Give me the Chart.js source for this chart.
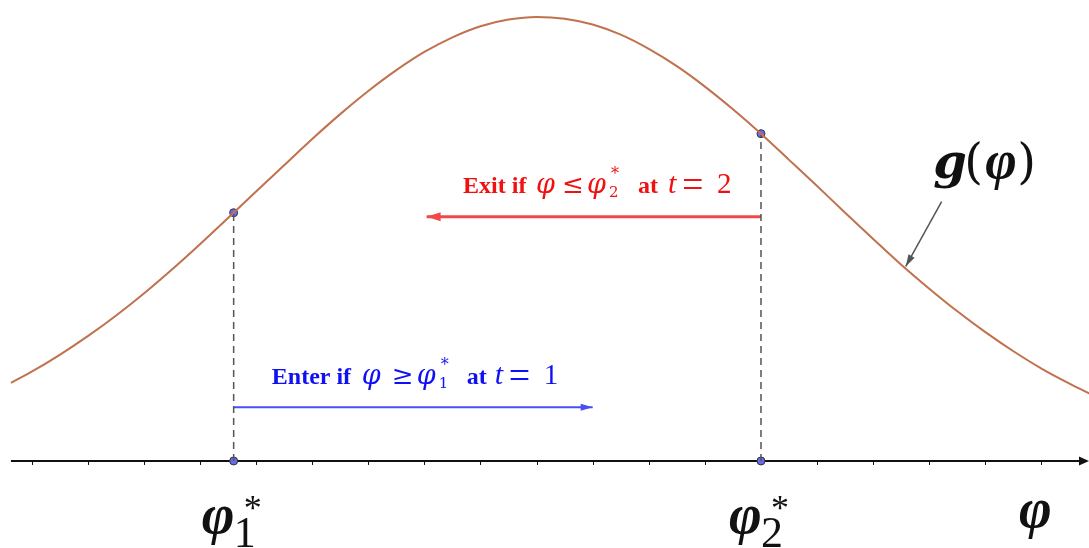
<!DOCTYPE html>
<html>
<head>
<meta charset="utf-8">
<script src="https://cdn.jsdelivr.net/npm/chart.js@4/dist/chart.umd.min.js"></script>
<style>
  html, body { margin: 0; padding: 0; background: #fff; }
  #wrap { width: 1089px; height: 548px; position: relative; }
</style>
</head>
<body>
<div id="wrap"><canvas id="myChart"></canvas></div>
<script>
// values (x in tick units, y relative to the peak)
const xTicks = [0, 1, 2, 3, 4, 5, 6, 7, 8, 9, 10, 11, 12, 13, 14, 15, 16, 17, 18];
const curveX = [-0.37, 0, 0.5, 1, 1.5, 2, 2.5, 3, 3.5, 4, 4.5, 5, 5.5, 6, 6.5, 7, 7.5, 8, 8.5, 9,
  9.5, 10, 10.5, 11, 11.5, 12, 12.5, 13, 13.5, 14, 14.5, 15, 15.5, 16, 16.5, 17, 17.5, 18, 18.5, 18.9];
const curveY = [0.176, 0.201, 0.239, 0.281, 0.327, 0.377, 0.431, 0.488, 0.547, 0.607, 0.666, 0.725, 0.781, 0.833, 0.880, 0.921, 0.954, 0.979, 0.994, 1.0,
  0.996, 0.983, 0.960, 0.928, 0.889, 0.843, 0.792, 0.737, 0.678, 0.619, 0.559, 0.500, 0.442, 0.388, 0.337, 0.290, 0.247, 0.208, 0.174, 0.149];
const starX = [3.6, 13.0];
const starY = [0.559, 0.737];
const enterX = [3.6, 10.0];
const enterY = 0.121;
const exitX = [13.0, 7.04];
const exitY = 0.55;
const gArrowX = [16.22, 15.58];
const gArrowY = [0.584, 0.438];

const ctx = document.getElementById('myChart');

const mathFont = '"DejaVu Serif"';
const textFont = '"Liberation Serif"';

function pts(xs, ys) {
  return xs.map((x, i) => ({ x: x, y: Array.isArray(ys) ? ys[i] : ys }));
}

function arrowHead(c, x0, y0, x1, y1, len, half, color) {
  const a = Math.atan2(y1 - y0, x1 - x0);
  c.save();
  c.fillStyle = color;
  c.beginPath();
  c.moveTo(x1, y1);
  c.lineTo(x1 - len * Math.cos(a) + half * Math.sin(a), y1 - len * Math.sin(a) - half * Math.cos(a));
  c.lineTo(x1 - len * Math.cos(a) - half * Math.sin(a), y1 - len * Math.sin(a) + half * Math.cos(a));
  c.closePath();
  c.fill();
  c.restore();
}

// pieces: [text, font, dx, dy]
function drawRun(c, x, y, color, pieces) {
  c.save();
  c.fillStyle = color;
  c.textBaseline = 'alphabetic';
  c.textAlign = 'left';
  pieces.forEach(p => {
    c.font = p[1];
    c.fillText(p[0], x + p[2], y + p[3]);
  });
  c.restore();
}

const overlay = {
  id: 'overlay',
  beforeDatasetsDraw(chart) {
    const c = chart.ctx;
    const xs = chart.scales.x, ys = chart.scales.y;
    const y0 = ys.getPixelForValue(0);
    const left = xs.getPixelForValue(-0.37);
    const right = chart.width;
    c.save();
    c.strokeStyle = '#111';
    c.lineWidth = 2;
    c.beginPath();
    c.moveTo(left, y0);
    c.lineTo(right - 6, y0);
    c.stroke();
    arrowHead(c, left, y0, right, y0, 10, 4.5, '#111');
    c.lineWidth = 1;
    xTicks.forEach(t => {
      const px = Math.round(xs.getPixelForValue(t)) + 0.5;
      c.beginPath();
      c.moveTo(px, y0);
      c.lineTo(px, y0 + 4);
      c.stroke();
    });
    c.restore();
  },
  afterDatasetsDraw(chart) {
    const c = chart.ctx;
    const xs = chart.scales.x, ys = chart.scales.y;
    const X = v => xs.getPixelForValue(v), Y = v => ys.getPixelForValue(v);

    arrowHead(c, X(enterX[0]), Y(enterY), X(enterX[1]), Y(enterY), 12, 3.5, '#4b4ff2');
    arrowHead(c, X(exitX[0]), Y(exitY), X(exitX[1]), Y(exitY), 14, 4.5, '#f24848');
    arrowHead(c, X(gArrowX[0]), Y(gArrowY[0]), X(gArrowX[1]), Y(gArrowY[1]), 12, 3.5, '#555');

    // Enter label
    const bx = X(4.28), by = Y(0.173);
    drawRun(c, bx, by, '#1010f4', [
      ['Enter if', 'bold 24px ' + textFont, 0, 0],
      ['\u03c6', 'italic 27px ' + mathFont, 90, 0],
      ['\u2265', '26px ' + mathFont, 120, 0],
      ['\u03c6', 'italic 27px ' + mathFont, 145, 0],
      ['1', '15px ' + mathFont, 167, 4],
      ['*', '16px ' + mathFont, 169, -14],
      ['at', 'bold 24px ' + textFont, 195, 0],
      ['t', 'italic 30px ' + textFont, 223, 0],
      ['=', '38px ' + textFont, 237, 4],
      ['1', '29px ' + textFont, 272, 0]
    ]);

    // Exit label
    const rx = X(7.69), ry = Y(0.604);
    drawRun(c, rx, ry, '#f01010', [
      ['Exit if', 'bold 24px ' + textFont, 0, 0],
      ['\u03c6', 'italic 27px ' + mathFont, 73, 0],
      ['\u2264', '26px ' + mathFont, 99, 0],
      ['\u03c6', 'italic 27px ' + mathFont, 124, 0],
      ['2', '15px ' + mathFont, 146, 4],
      ['*', '16px ' + mathFont, 148, -14],
      ['at', 'bold 24px ' + textFont, 175, 0],
      ['t', 'italic 30px ' + textFont, 205, 0],
      ['=', '38px ' + textFont, 219, 4],
      ['2', '29px ' + textFont, 254, 0]
    ]);

    // g(phi)
    drawRun(c, X(16.07), Y(0.637), '#111', [
      ['g', 'bold italic 48px ' + mathFont, 0, 0],
      ['(', '48px ' + mathFont, 31, 0],
      ['\u03c6', 'bold italic 54px ' + textFont, 52, 0],
      [')', '48px ' + mathFont, 84, 0]
    ]);

    // axis labels
    const ly = 533;
    ['1', '2'].forEach((s, i) => {
      const px = X(starX[i]);
      drawRun(c, px, ly, '#111', [
        ['\u03c6', 'bold italic 56px ' + textFont, -32, 0],
        [s, '44px ' + textFont, 0, 14],
        ['*', '36px ' + textFont, 10, -13]
      ]);
    });
    drawRun(c, X(17.6), 527, '#111', [
      ['\u03c6', 'bold italic 56px ' + textFont, 0, 0]
    ]);
  }
};

const data = {
  datasets: [
    {
      label: 'g',
      data: pts(curveX, curveY),
      borderColor: '#c0714d',
      borderWidth: 2,
      pointRadius: 0,
      cubicInterpolationMode: 'monotone'
    },
    {
      label: 'drop1',
      data: [{ x: starX[0], y: 0 }, { x: starX[0], y: starY[0] }],
      borderColor: '#555',
      borderWidth: 1.5,
      borderDash: [7, 5],
      pointRadius: 0
    },
    {
      label: 'drop2',
      data: [{ x: starX[1], y: 0 }, { x: starX[1], y: starY[1] }],
      borderColor: '#555',
      borderWidth: 1.5,
      borderDash: [7, 5],
      pointRadius: 0
    },
    {
      label: 'enter',
      data: pts(enterX, enterY),
      borderColor: '#4b4ff2',
      borderWidth: 2,
      pointRadius: 0
    },
    {
      label: 'exit',
      data: pts(exitX, exitY),
      borderColor: '#f24848',
      borderWidth: 3,
      pointRadius: 0
    },
    {
      label: 'gArrow',
      data: pts(gArrowX, gArrowY),
      borderColor: '#555',
      borderWidth: 1.5,
      pointRadius: 0
    },
    {
      label: 'stars',
      data: pts(starX, starY).concat(pts(starX, 0)),
      showLine: false,
      pointRadius: 4,
      backgroundColor: '#6a6aee',
      borderColor: '#333',
      borderWidth: 1
    }
  ]
};

const config = {
  type: 'line',
  data: data,
  plugins: [overlay],
  options: {
    responsive: true,
    maintainAspectRatio: false,
    animation: false,
    layout: { padding: 0, autoPadding: false },
    plugins: { legend: { display: false }, tooltip: { enabled: false } },
    scales: {
      x: { type: 'linear', display: false, min: -0.565, max: 18.847 },
      y: { type: 'linear', display: false, min: -0.196, max: 1.038 }
    }
  }
};

const lineChart = new Chart(ctx, config);
</script>
</body>
</html>
